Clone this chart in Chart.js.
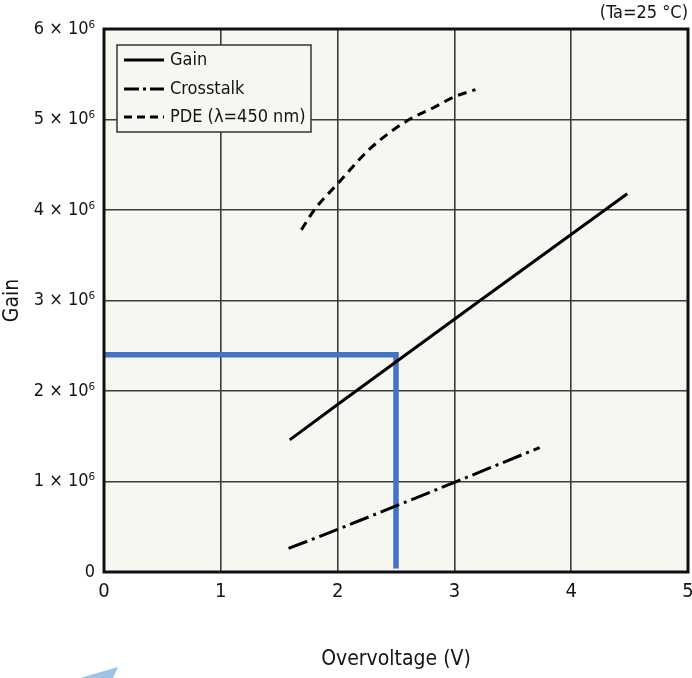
<!DOCTYPE html>
<html>
<head>
<meta charset="utf-8">
<script src="https://cdn.jsdelivr.net/npm/chart.js@4.4.1/dist/chart.umd.min.js"></script>
<style>
  html, body { margin: 0; padding: 0; background: #fff; }
  #wrap { width: 692px; height: 678px; position: relative; }
</style>
</head>
<body>
<div id="wrap"><canvas id="chart"></canvas></div>
<script>
// values
var gainX = [1.59, 2.0, 3.22, 4.48];
var gainY = [1.46e6, 1.85e6, 3.0e6, 4.18e6];

var crossX = [1.58, 2.0, 3.0, 3.73];
var crossY = [0.26e6, 0.47e6, 0.99e6, 1.375e6];

var pdeX = [1.69, 1.8, 2.0, 2.28, 2.6, 2.82, 3.0, 3.18];
var pdeY = [3.78e6, 4.0e6, 4.29e6, 4.68e6, 4.99e6, 5.13e6, 5.25e6, 5.33e6];

// blue marker (2.5 V -> 2.4 x 10^6)
var markX = [0, 2.5, 2.5];
var markY = [2.4e6, 2.4e6, 0.04e6];

var seriesNames = ['Gain', 'Crosstalk', 'PDE (\u03bb=450 nm)'];
var yTickLabels = ['0', '1 \u00d7 10\u2076', '2 \u00d7 10\u2076', '3 \u00d7 10\u2076', '4 \u00d7 10\u2076', '5 \u00d7 10\u2076', '6 \u00d7 10\u2076'];
var xTickLabels = ['0', '1', '2', '3', '4', '5'];

var FONT = '"DejaVu Sans Condensed", "DejaVu Sans", sans-serif';
var INK = '#141414';
var crossDash = [20, 5, 3, 5];
var pdeDash = [9, 6];

function pts(xs, ys) {
  return xs.map(function (x, i) { return { x: x, y: ys[i] }; });
}

var framePlugin = {
  id: 'frame',
  beforeDraw: function (chart) {
    var a = chart.chartArea, ctx = chart.ctx;
    ctx.save();
    ctx.fillStyle = '#f7f6f0';
    ctx.fillRect(a.left, a.top, a.right - a.left, a.bottom - a.top);
    ctx.restore();
  },
  afterDraw: function (chart) {
    var a = chart.chartArea, ctx = chart.ctx;
    ctx.save();
    // legend box
    var bx = a.left + 13, by = a.top + 16, bw = 194, bh = 87;
    ctx.fillStyle = '#f7f6f0';
    ctx.fillRect(bx, by, bw, bh);
    ctx.strokeStyle = '#333';
    ctx.lineWidth = 1.5;
    ctx.strokeRect(bx, by, bw, bh);
    var rows = [15, 44, 72];
    var dashes = [[], [15, 4, 3, 4], [8, 5]];
    ctx.font = '18px ' + FONT;
    ctx.textBaseline = 'middle';
    for (var i = 0; i < seriesNames.length; i++) {
      ctx.strokeStyle = '#000';
      ctx.lineWidth = 3;
      ctx.setLineDash(dashes[i]);
      ctx.beginPath();
      ctx.moveTo(bx + 7, by + rows[i]);
      ctx.lineTo(bx + 47, by + rows[i]);
      ctx.stroke();
      ctx.setLineDash([]);
      ctx.fillStyle = INK;
      ctx.fillText(seriesNames[i], bx + 53, by + rows[i]);
    }
    // plot frame
    ctx.strokeStyle = '#111';
    ctx.lineWidth = 3;
    ctx.strokeRect(a.left, a.top, a.right - a.left, a.bottom - a.top);
    // condition note
    ctx.font = '18px ' + FONT;
    ctx.textAlign = 'right';
    ctx.textBaseline = 'middle';
    ctx.fillStyle = INK;
    ctx.fillText('(Ta=25 \u00b0C)', chart.width - 4, 13);
    // light blue arrow fragment in the corner
    ctx.fillStyle = '#9dc3e6';
    ctx.beginPath();
    ctx.moveTo(80, 678);
    ctx.lineTo(118, 667);
    ctx.lineTo(113, 678);
    ctx.closePath();
    ctx.fill();
    ctx.restore();
  }
};

new Chart(document.getElementById('chart'), {
  type: 'scatter',
  data: {
    datasets: [
      {
        label: 'mark', data: pts(markX, markY), showLine: true,
        borderColor: '#4472c4', borderWidth: 5.5, pointRadius: 0,
        borderJoinStyle: 'miter', order: 10
      },
      {
        label: seriesNames[0], data: pts(gainX, gainY), showLine: true,
        borderColor: '#000', borderWidth: 3, pointRadius: 0, order: 1
      },
      {
        label: seriesNames[1], data: pts(crossX, crossY), showLine: true,
        borderColor: '#000', borderWidth: 3, pointRadius: 0,
        borderDash: crossDash, order: 1
      },
      {
        label: seriesNames[2], data: pts(pdeX, pdeY), showLine: true,
        borderColor: '#000', borderWidth: 3, pointRadius: 0,
        borderDash: pdeDash, cubicInterpolationMode: 'monotone', order: 1
      }
    ]
  },
  options: {
    responsive: true,
    maintainAspectRatio: false,
    animation: false,
    layout: { padding: { top: 29, right: 4, left: 0, bottom: 0 } },
    plugins: { legend: { display: false }, tooltip: { enabled: false } },
    scales: {
      x: {
        type: 'linear', min: 0, max: 5,
        grid: { color: '#3c3c3c', lineWidth: 1.6, drawTicks: false },
        border: { display: false },
        ticks: {
          stepSize: 1, padding: 8, color: INK,
          font: { family: FONT, size: 20 },
          maxRotation: 0,
          callback: function (v) { return xTickLabels[Math.round(v)]; }
        },
        title: {
          display: true, text: 'Overvoltage (V)', color: INK,
          font: { family: FONT, size: 21 }, padding: { top: 0, bottom: 6 }
        },
        afterFit: function (s) { s.height = 106; s.paddingLeft = 0; s.paddingRight = 0; }
      },
      y: {
        type: 'linear', min: 0, max: 6e6,
        grid: { color: '#3c3c3c', lineWidth: 1.6, drawTicks: false },
        border: { display: false },
        ticks: {
          stepSize: 1e6, padding: 9, color: INK,
          font: { family: FONT, size: 18 },
          callback: function (v) { return yTickLabels[Math.round(v / 1e6)]; }
        },
        title: {
          display: true, text: 'Gain', color: INK,
          font: { family: FONT, size: 21 }, padding: { top: 0, bottom: 0 }
        },
        afterFit: function (s) { s.width = 104; s.paddingTop = 0; s.paddingBottom = 0; }
      }
    }
  },
  plugins: [framePlugin]
});
</script>
</body>
</html>
